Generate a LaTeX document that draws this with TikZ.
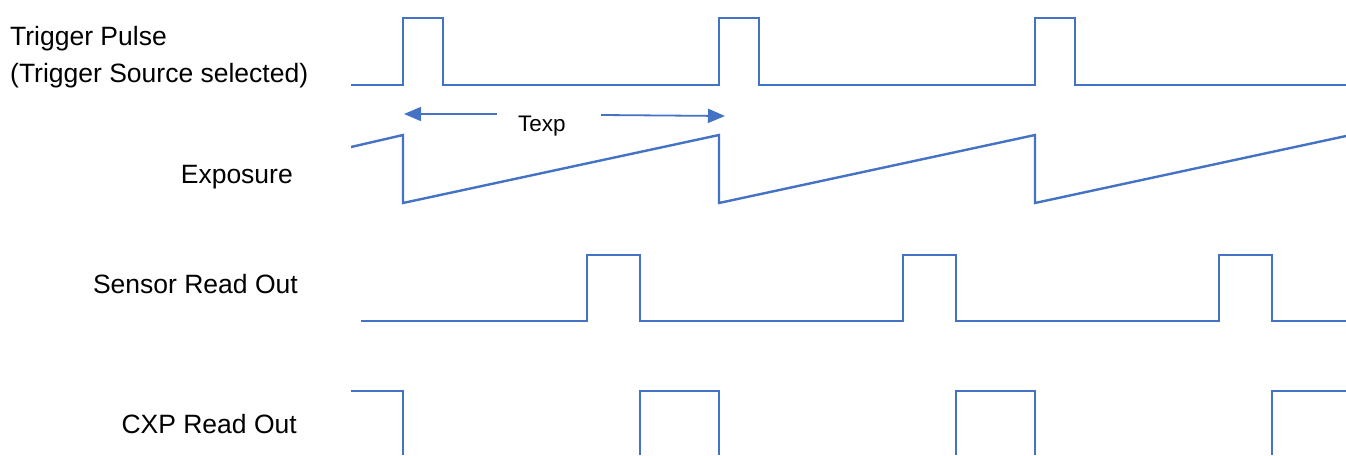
\documentclass[tikz,border=0pt]{standalone}
\usepackage{fontspec}
\setmainfont{Liberation Sans}
\usetikzlibrary{arrows.meta}
\definecolor{wave}{HTML}{4472C4}
\tikzset{
  signal/.style={draw=wave, line width=2.4pt, line join=miter},
  label/.style={font=\fontsize{26.5}{31}\selectfont, inner sep=0pt},
  dimarrow/.style={draw=wave, line width=1.8pt, -{Triangle[length=17pt,width=14pt]}},
}
\begin{document}
\begin{tikzpicture}[x=1pt,y=-1pt]
\useasboundingbox (0,0) rectangle (1346,455);

% signal names
\node[label, anchor=base west] (trig) at (10,45) {Trigger Pulse};
\node[label, anchor=base west] (trigsrc) at (10,82) {(Trigger Source selected)};
\node[label, anchor=base east] (expo) at (293,183) {Exposure};
\node[label, anchor=base east] (sens) at (298,293) {Sensor Read Out};
\node[label, anchor=base east] (cxp) at (297,433) {CXP Read Out};

% trigger pulses
\draw[signal] (351,85) -- (403,85) -- (403,18) -- (443,18) -- (443,85)
  -- (719,85) -- (719,18) -- (759,18) -- (759,85)
  -- (1035,85) -- (1035,18) -- (1075,18) -- (1075,85) -- (1346,85);

% exposure ramp
\draw[signal] (351,147) -- (403,135) -- (403,203) -- (719,135) -- (719,203)
  -- (1035,135) -- (1035,203) -- (1346,136);

% exposure period
\node[font=\fontsize{22.5}{26}\selectfont, inner sep=0pt, anchor=base west] (texp) at (518,131) {Texp};
\coordinate (texpL) at (404,114);
\coordinate (texpR) at (725,116);
\coordinate (texpLs) at (497,114);
\coordinate (texpRs) at (601,115);
\draw[dimarrow] (texpLs) -- (texpL);
\draw[dimarrow] (texpRs) -- (texpR);

% sensor read out
\draw[signal] (361,321) -- (587,321) -- (587,255) -- (640,255) -- (640,321)
  -- (903,321) -- (903,255) -- (956,255) -- (956,321)
  -- (1219,321) -- (1219,255) -- (1272,255) -- (1272,321) -- (1346,321);

% CXP read out
\draw[signal] (351,391) -- (403,391) -- (403,455);
\draw[signal] (640,455) -- (640,391) -- (719,391) -- (719,455);
\draw[signal] (956,455) -- (956,391) -- (1035,391) -- (1035,455);
\draw[signal] (1272,455) -- (1272,391) -- (1346,391);
\end{tikzpicture}
\end{document}
